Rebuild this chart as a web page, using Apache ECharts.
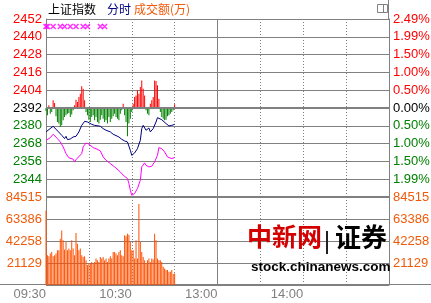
<!DOCTYPE html>
<html><head><meta charset="utf-8">
<script src="https://cdn.jsdelivr.net/npm/echarts@6/dist/echarts.min.js"></script>
<style>html,body{margin:0;padding:0;background:#fff}#c{width:431px;height:303px}</style>
</head><body><div id="c"></div>
<script>
// ---- tick labels ----
const timeTickMinutes = [0, 60, 120, 180];
const timeTickLabels = ['09:30', '10:30', '13:00', '14:00'];
const priceTickLabels = ['2452','2440','2428','2416','2404','2392','2380','2368','2356','2344'];
const pctTickLabels = ['2.49%','1.99%','1.50%','1.00%','0.50%','0.00%','0.50%','1.00%','1.50%','1.99%'];
const volTickLabels = ['84515','63386','42258','21129'];
const prevClose = 2392;
const priceTop = 2452, priceBottom = 2332, priceStep = 12;
const volTop = 84515;

// ---- index line (minute offset from 09:30, value) ----
const indexMinutes = [0,5,11,13,14,15,16,17,19,20,21,23,25,27,29,32,34,38,40,42,45,47,51,53,55,57,59,60,62,64,66,67,68,69,70,72,73,75,76,77,78,79,81,82,84,86,88,90];
const indexValues = [2375.9,2379.7,2373.6,2371.4,2372.9,2370.7,2372.0,2371.1,2372.5,2371.4,2372.9,2375.9,2380.3,2383.0,2382.6,2381.0,2380.3,2379.7,2378.1,2377.0,2375.9,2374.3,2372.5,2370.9,2369.8,2369.1,2363.5,2360.1,2361.7,2364.6,2370.2,2378.1,2380.3,2379.2,2377.0,2378.5,2375.9,2378.1,2379.2,2382.6,2385.5,2385.9,2384.1,2383.7,2381.5,2379.9,2380.3,2381.0];

// ---- unweighted line ----
const avgMinutes = [0,3,5,8,10,12,14,16,19,20,21,25,26,28,30,33,35,38,40,42,45,48,52,54,57,58,59,60,62,64,66,67,69,70,72,74,76,78,79,81,83,85,88,90];
const avgValues = [2370.2,2372.0,2374.3,2371.4,2369.1,2365.8,2361.3,2358.4,2357.5,2355.7,2357.2,2361.3,2365.8,2368.4,2367.6,2365.3,2364.6,2363.1,2359.0,2356.8,2354.5,2352.3,2348.9,2346.7,2344.4,2341.1,2336.6,2333.2,2334.4,2337.7,2343.3,2352.3,2355.0,2353.4,2352.3,2352.7,2355.7,2360.1,2365.3,2364.6,2362.4,2359.0,2357.9,2358.6];

// ---- signal markers (minutes) ----
const signalMinutes = [0,1,5,10,13,17,21,26,29,38,41];
const signalLevel = 2447;

// ---- buy/sell power bars, one per minute from 09:30 (index-point units) ----
const flowValues = [-2.0,-4.9,1.8,-3.8,-2.7,5.2,3.4,-5.6,-9.4,-10.5,-12.8,-11.7,-8.3,-6.1,-4.9,-3.8,-3.4,-6.1,-4.3,-1.6,
  1.8,5.6,4.0,7.4,9.6,14.6,13.0,5.2,-2.7,-4.9,-7.9,-9.4,-6.1,-4.9,-8.3,-6.1,-9.4,-10.5,-7.9,-4.9,
  -7.2,-9.4,-8.3,-10.5,-6.1,-9.4,-7.2,-5.6,-3.8,-6.1,-7.2,-8.3,-3.8,-1.6,2.9,-4.9,-9.4,-19.1,-10.5,-7.2,
  -2.7,2.9,7.4,8.5,11.9,9.6,14.1,18.6,13.0,8.5,-1.6,-3.8,-4.9,2.9,5.2,7.4,18.6,18.2,15.3,6.3,
  -2.7,-6.1,-7.2,-8.3,-7.9,-5.6,-4.9,-3.8,-2.7,-1.6,2.5];

// ---- turnover per minute (万) ----
const volumeValues = [71500,28600,27600,30200,31800,27600,28600,30200,33400,33400,44500,52400,42900,34000,41300,33400,35000,33400,42900,35000,
  28600,49900,39700,33400,35000,28600,27000,27600,23800,19100,20700,20700,22200,20700,22200,25400,23800,22200,27000,25400,
  27000,23800,25400,22200,25400,27600,25400,31800,31800,30200,28600,31800,33400,28600,27600,47700,46700,49200,48300,41300,
  33400,33400,25400,42900,25400,77800,41300,31800,27000,23800,20700,23800,25400,22200,25400,24500,49200,42900,25400,23800,
  23800,22200,17500,15900,14300,14300,12700,12700,14300,10500,11100];

// ---- build ----
const half = priceTop - prevClose; // 60
const GRAY = '#808080', RED = '#ff0000', GREEN = '#008000', ORANGE = '#f05a0a';
const LFONT = 'Liberation Sans, Arial, sans-serif';
function priceIdx(v){ return Math.round((half - v) / priceStep); }
function signColor(v){ v = Number(v); return v > 0.001 ? RED : (v < -0.001 ? GREEN : '#000'); }

const chart = echarts.init(document.getElementById('c'), null, {renderer:'canvas'});
const xCommon = {
  type:'value', min:0, max:240, interval:30,
  axisLine:{show:false}, axisTick:{show:false},
  splitLine:{show:true, lineStyle:{color:GRAY, type:[1,2], width:1}}
};
chart.setOption({
  animation:false,
  backgroundColor:'#fff',
  grid:[
    {left:46, right:42, top:19, height:178, outerBoundsMode:'none', containLabel:false},
    {left:46, right:42, top:197, height:88, outerBoundsMode:'none', containLabel:false}
  ],
  xAxis:[
    Object.assign({gridIndex:0, axisLabel:{show:false}}, xCommon),
    Object.assign({gridIndex:1, axisLabel:{show:true, align:'right', margin:3, color:GRAY, fontSize:13, fontFamily:LFONT,
      showMinLabel:true, showMaxLabel:true,
      formatter:function(v){ const i = timeTickMinutes.indexOf(Math.round(v)); return i >= 0 ? timeTickLabels[i] : ''; }}}, xCommon)
  ],
  yAxis:[
    {gridIndex:0, type:'value', min:-half, max:half, interval:priceStep, position:'left',
      axisLine:{show:true, lineStyle:{color:GRAY}}, axisTick:{show:false},
      splitLine:{show:true, lineStyle:{color:GRAY, width:1}},
      axisLabel:{margin:4, fontSize:13, fontFamily:LFONT, color:function(v){return signColor(v);},
        formatter:function(v){ const i = priceIdx(v); return i < priceTickLabels.length ? priceTickLabels[i] : ''; }}},
    {gridIndex:0, type:'value', min:-half, max:half, interval:priceStep, position:'right',
      axisLine:{show:true, lineStyle:{color:GRAY}}, axisTick:{show:false}, splitLine:{show:false},
      axisLabel:{margin:4, fontSize:13, fontFamily:LFONT, color:function(v){return signColor(v);},
        formatter:function(v){ const i = priceIdx(v); return i < pctTickLabels.length ? pctTickLabels[i] : ''; }}},
    {gridIndex:1, type:'value', min:0, max:volTop, interval:volTop/4, position:'left',
      axisLine:{show:true, lineStyle:{color:GRAY}}, axisTick:{show:false},
      splitLine:{show:true, lineStyle:{color:GRAY, width:1}},
      axisLabel:{margin:4, fontSize:13, fontFamily:LFONT, color:ORANGE,
        formatter:function(v){ const i = Math.round((volTop - v) / (volTop/4)); return i < volTickLabels.length ? volTickLabels[i] : ''; }}},
    {gridIndex:1, type:'value', min:0, max:volTop, interval:volTop/4, position:'right',
      axisLine:{show:true, lineStyle:{color:GRAY}}, axisTick:{show:false}, splitLine:{show:false},
      axisLabel:{margin:4, fontSize:13, fontFamily:LFONT, color:ORANGE,
        formatter:function(v){ const i = Math.round((volTop - v) / (volTop/4)); return i < volTickLabels.length ? volTickLabels[i] : ''; }}}
  ],
  series:[
    {type:'bar', xAxisIndex:1, yAxisIndex:2, barWidth:1, silent:true,
      itemStyle:{color:'#ff5000'},
      data: volumeValues.map((v,i)=>[i, v]),
      markLine:{silent:true, symbol:'none', label:{show:false}, animation:false,
        lineStyle:{color:GRAY, type:'solid', width:1},
        data:[{xAxis:120}, {yAxis:volTop, lineStyle:{color:GRAY, type:'solid', width:2}}]}},
    {type:'bar', xAxisIndex:0, yAxisIndex:0, barWidth:1, silent:true,
      itemStyle:{color:function(p){ return p.value[1] >= 0 ? RED : GREEN; }},
      data: flowValues.map((v,i)=>[i, v]),
      markLine:{silent:true, symbol:'none', label:{show:false}, animation:false,
        lineStyle:{color:GRAY, type:'solid', width:1},
        data:[{xAxis:120}, {yAxis:0, lineStyle:{color:GRAY, type:'solid', width:2}}]}},
    {type:'line', xAxisIndex:0, yAxisIndex:0, showSymbol:false, silent:true,
      lineStyle:{color:'#ff00ff', width:1},
      data: avgMinutes.map((m,i)=>[m, avgValues[i]-prevClose])},
    {type:'line', xAxisIndex:0, yAxisIndex:0, showSymbol:false, silent:true,
      lineStyle:{color:'#000080', width:1},
      data: indexMinutes.map((m,i)=>[m, indexValues[i]-prevClose])},
    {type:'scatter', xAxisIndex:0, yAxisIndex:0, silent:true,
      symbol:'path://M0,0L10,10M10,0L0,10', symbolSize:5,
      itemStyle:{color:'rgba(0,0,0,0)', borderColor:'#ff00ff', borderWidth:1.5},
      data: signalMinutes.map(m=>[m, signalLevel-prevClose])}
  ],
  graphic:[
    {type:'text', left:48, top:3, style:{text:'上证指数', fill:'#000', font:'12px "Noto Sans CJK SC"'}},
    {type:'text', left:107, top:3, style:{text:'分时', fill:'#000080', font:'12px "Noto Sans CJK SC"'}},
    {type:'text', left:134, top:3, style:{text:'成交额(万)', fill:ORANGE, font:'12px "Noto Sans CJK SC"'}},
    {type:'rect', shape:{x:377.5, y:4.5, width:10, height:8}, style:{fill:'none', stroke:GRAY, lineWidth:1}},
    {type:'line', shape:{x1:383.5, y1:4.5, x2:383.5, y2:12.5}, style:{stroke:GRAY, lineWidth:1}},
    {type:'line', shape:{x1:388.5, y1:0, x2:388.5, y2:19}, style:{stroke:GRAY, lineWidth:1}},
    {type:'line', shape:{x1:0, y1:284.5, x2:431, y2:284.5}, style:{stroke:GRAY, lineWidth:1}},
    {type:'text', left:247, top:224, z:100, style:{text:'中新网', fill:'#d40000', font:'bold 25px "Noto Sans CJK SC"'}},
    {type:'rect', z:100, shape:{x:326, y:231, width:2, height:23}, style:{fill:'#222'}},
    {type:'text', left:335, top:224, z:100, style:{text:'证券', fill:'#000', font:'bold 26px "Noto Sans CJK SC"'}},
    {type:'text', left:251, top:260, z:100, style:{text:'stock.chinanews.com', fill:'#000', font:'bold 13.5px "Liberation Sans"'}}
  ]
});
</script></body></html>
